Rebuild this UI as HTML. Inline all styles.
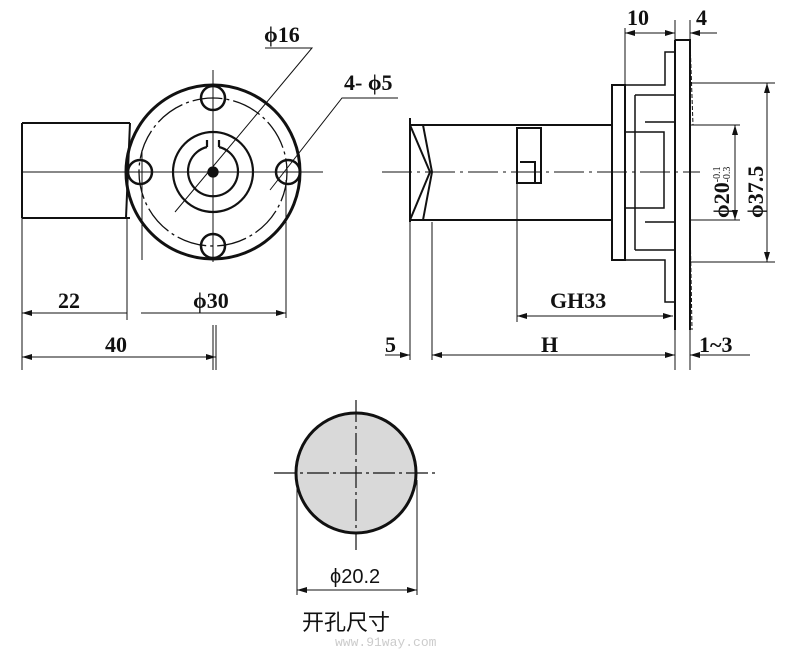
<!DOCTYPE html><html><head><style>body{margin:0;background:#fff}svg{display:block}text{font-family:"Liberation Serif",serif;font-weight:bold;fill:#111}</style></head><body>
<svg width="810" height="654" viewBox="0 0 810 654" xmlns="http://www.w3.org/2000/svg">
<defs><marker id="a" viewBox="0 0 10 6" refX="10" refY="3" markerWidth="10" markerHeight="6" orient="auto-start-reverse"><path d="M0,0L10,3L0,6z" fill="#111"/></marker></defs>
<g stroke="#111" fill="none" stroke-width="1.3">
<path d="M22,123H130M22,218H130M22,123V218" stroke-width="2"/>
<path d="M130,123L126,218" stroke-width="2"/>
<circle cx="213" cy="172" r="87" stroke-width="3"/>
<circle cx="213" cy="172" r="74" stroke-dasharray="30 4 3 4"/>
<circle cx="213" cy="172" r="40" stroke-width="2.2"/>
<path d="M207,147A25,25 0 1,0 219,147M207,147V140M219,147V140" stroke-width="2.2"/>
<circle cx="213" cy="172" r="5" fill="#111"/>
<g stroke-width="2.5"><circle cx="213" cy="98" r="12"/><circle cx="213" cy="246" r="12"/><circle cx="140" cy="172" r="12"/><circle cx="288" cy="172" r="12"/></g>
<path d="M22,172H323M213,70V262M213,325V370" stroke-width="1"/>
<path d="M142,150V260M286,180V318M127,218V320" stroke-width="1"/>
<path d="M175,212L312,48H265M270,190L342,98H398" stroke-width="1"/>
<path d="M22,218V370M216,325V370" stroke-width="1"/>
<path d="M22,313H127M141,313H286" marker-start="url(#a)" marker-end="url(#a)" stroke-width="1"/>
<path d="M22,357H216" marker-start="url(#a)" marker-end="url(#a)" stroke-width="1"/>
<path d="M410,125H612M410,220H612" stroke-width="2"/>
<path d="M410,118V222M410,125L430,172L410,220M423,125L432,172L423,220" stroke-width="2"/>
<path d="M517,128H541V183H517ZM520,162H535V183" stroke-width="2"/>
<path d="M612,85H625V260H612Z" stroke-width="2"/>
<path d="M625,85H665V52H675M625,260H665V302H675M635,95H675M635,250H675M635,95V250M625,132H664V208H625M645,122H675M645,222H675" stroke-width="1.5"/>
<path d="M675,40H690L690,330M675,40V330" stroke-width="2"/>
<path d="M690,40L693,125M690,220L692,330" stroke-width="1" stroke-dasharray="4 2"/>
<path d="M382,172H700" stroke-width="1" stroke-dasharray="30 5 3 5"/>
<path d="M625,28V85M675,20V40M690,20V40M690,260V370M675,330V370M410,222V360M432,222V360M517,183V322" stroke-width="1"/>
<path d="M625,33H675" marker-start="url(#a)" marker-end="url(#a)"  stroke-width="1"/>
<path d="M717,33H690" marker-end="url(#a)" stroke-width="1"/>
<path d="M690,125H740M690,220H740M690,83H775M690,262H775" stroke-width="1"/>
<path d="M735,125V220" marker-start="url(#a)" marker-end="url(#a)" stroke-width="1"/>
<path d="M767,83V262" marker-start="url(#a)" marker-end="url(#a)" stroke-width="1"/>
<path d="M517,316H673" marker-start="url(#a)" marker-end="url(#a)" stroke-width="1"/>
<path d="M432,355H675" marker-start="url(#a)" marker-end="url(#a)" stroke-width="1"/>
<path d="M385,355H410" marker-end="url(#a)" stroke-width="1"/>
<path d="M750,355H690" marker-end="url(#a)" stroke-width="1"/>
<circle cx="356" cy="473" r="60" fill="#d9d9d9" stroke-width="3"/>
<path d="M274,473H435M356,400V550" stroke-width="1.2" stroke-dasharray="22 4 3 4"/>
<path d="M297,480V595M417,480V595" stroke-width="1"/>
<path d="M297,590H417" marker-start="url(#a)" marker-end="url(#a)" stroke-width="1"/>
</g>
<g font-size="22">
<text x="264" y="42">ϕ16</text>
<text x="344" y="90">4- ϕ5</text>
<text x="58" y="308">22</text>
<text x="193" y="308">ϕ30</text>
<text x="105" y="352">40</text>
<text x="627" y="25">10</text>
<text x="696" y="25">4</text>
<text x="550" y="308">GH33</text>
<text x="541" y="352">H</text>
<text x="385" y="352">5</text>
<text x="699" y="352">1~3</text>
<text transform="translate(729,218) rotate(-90)">ϕ20<tspan font-size="10" font-weight="normal" dy="-9">-0.1</tspan><tspan font-size="10" font-weight="normal" dx="-16" dy="10">-0.3</tspan></text>
<text transform="translate(763,218) rotate(-90)">ϕ37.5</text>
</g>
<text x="330" y="583" font-size="20" style="font-family:'Liberation Sans',sans-serif;font-weight:normal">ϕ20.2</text>
<text x="302" y="630" font-size="22" style="font-family:'Liberation Sans','Noto Sans CJK SC',sans-serif;font-weight:normal">开孔尺寸</text>
<text x="335" y="646" font-size="13" style="font-family:'Liberation Mono',monospace;font-weight:normal;fill:#ccc">www.91way.com</text>
</svg></body></html>
